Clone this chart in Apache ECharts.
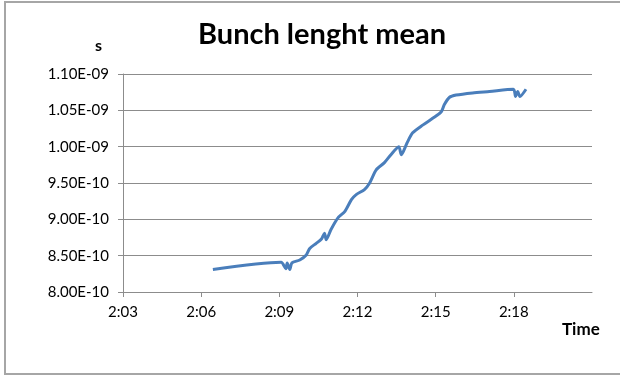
<!DOCTYPE html>
<html>
<head>
<meta charset="utf-8">
<script src="https://cdn.jsdelivr.net/npm/echarts@6/dist/echarts.min.js"></script>
<style>
  html, body { margin: 0; padding: 0; background: #fff; }
  #chart { width: 620px; height: 376px; }
</style>
</head>
<body>
<div id="chart"></div>
<script>
// Sample times (h:mm:ss)
const times = [
  "2:06:27", "2:09:04", "2:09:15", "2:09:18", "2:09:24", "2:09:29", "2:09:47",
  "2:10:02", "2:10:10", "2:10:25", "2:10:37", "2:10:44", "2:10:48", "2:10:59",
  "2:11:15", "2:11:31", "2:11:46", "2:11:57", "2:12:16", "2:12:28", "2:12:43",
  "2:13:02", "2:13:17", "2:13:35", "2:13:41", "2:13:54", "2:14:07", "2:14:31",
  "2:14:53", "2:15:13", "2:15:20", "2:15:32", "2:15:47", "2:16:25", "2:17:04",
  "2:17:59", "2:18:04", "2:18:09", "2:18:14", "2:18:28"
];
// Bunch length mean, in units of 1e-10 s
const bunchLength = [
  8.31, 8.41, 8.32, 8.40, 8.31, 8.40, 8.44,
  8.51, 8.60, 8.67, 8.73, 8.81, 8.72, 8.86,
  9.02, 9.11, 9.27, 9.34, 9.41, 9.50, 9.68,
  9.78, 9.89, 10.00, 9.89, 10.05, 10.19, 10.30,
  10.39, 10.48, 10.58, 10.68, 10.71, 10.74, 10.76,
  10.79, 10.69, 10.76, 10.69, 10.79
];
const unitScale = 1e-10;
// Time axis range in minutes after 0:00
const timeMin = 123, timeMax = 141, timeStep = 3;
const valueMin = 8, valueMax = 11, valueStep = 0.5;

function toMinutes(s) {
  const p = s.split(":").map(Number);
  return p[0] * 60 + p[1] + (p[2] || 0) / 60;
}
function fmtTime(m) {
  const h = Math.floor(m / 60);
  const mm = Math.round(m - h * 60);
  return h + ":" + String(mm).padStart(2, "0");
}
function fmtSci(v) {
  const e = (v * unitScale).toExponential(2);
  const [mant, exp] = e.split("e");
  const sign = exp[0] === "-" ? "-" : "+";
  const digits = exp.replace(/^[+-]/, "").padStart(2, "0");
  return mant + "E" + sign + digits;
}

const seriesData = times.map((t, i) => [toMinutes(t), bunchLength[i]]);

const font = "Lato, 'Liberation Sans', sans-serif";
const gray = "#8c8c8c";

const chart = echarts.init(document.getElementById("chart"), null, { renderer: "canvas" });
chart.setOption({
  animation: false,
  backgroundColor: "#fff",
  title: {
    text: "Bunch lenght mean",
    left: 317,
    textAlign: "center",
    top: 15,
    textStyle: { fontFamily: font, fontWeight: "bold", fontSize: 29, color: "#000" }
  },
  graphic: [
    {
      type: "rect",
      shape: { x: 5, y: 2, width: 640, height: 372 },
      style: { fill: "none", stroke: "#a6a6a6", lineWidth: 2 },
      z: 0
    },
    {
      type: "text",
      left: 95, top: 38,
      style: { text: "s", font: "bold 16px " + font, fill: "#000" }
    },
    {
      type: "text",
      left: 562, top: 321,
      style: { text: "Time", font: "bold 17px " + font, fill: "#000" }
    }
  ],
  grid: { left: 123, right: 28, top: 74, bottom: 84, containLabel: false },
  xAxis: {
    type: "value",
    min: timeMin, max: timeMax, interval: timeStep,
    axisLine: { show: true, lineStyle: { color: gray, width: 1 } },
    axisTick: { show: true, length: 5, lineStyle: { color: gray } },
    splitLine: { show: false },
    axisLabel: {
      showMaxLabel: false,
      margin: 13,
      fontFamily: font, fontSize: 15, color: "#000",
      formatter: fmtTime
    }
  },
  yAxis: {
    type: "value",
    min: valueMin, max: valueMax, interval: valueStep,
    axisLine: { show: true, lineStyle: { color: gray, width: 1 } },
    axisTick: { show: true, length: 5, lineStyle: { color: gray } },
    splitLine: { show: true, lineStyle: { color: gray, width: 1 } },
    axisLabel: {
      margin: 14,
      fontFamily: font, fontSize: 15, color: "#000",
      formatter: fmtSci
    }
  },
  series: [{
    type: "line",
    data: seriesData,
    smooth: 0.25,
    showSymbol: false,
    lineStyle: { color: "#4a7ebb", width: 3 },
    itemStyle: { color: "#4a7ebb" }
  }]
});
</script>
</body>
</html>
